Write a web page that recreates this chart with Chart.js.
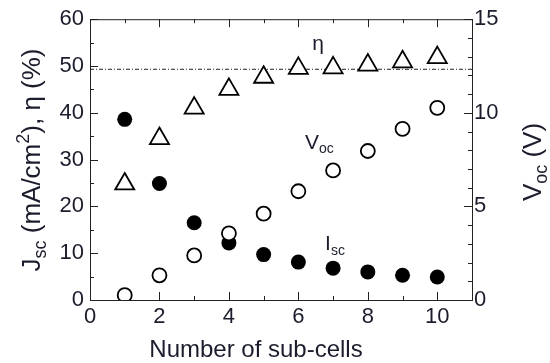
<!DOCTYPE html>
<html>
<head>
<meta charset="utf-8">
<script src="https://cdn.jsdelivr.net/npm/chart.js@4.4.0/dist/chart.umd.min.js"></script>
<style>
  html, body { margin: 0; padding: 0; background: #fff; }
  #wrap { width: 550px; height: 363px; }
</style>
</head>
<body>
<div id="wrap"><canvas id="c" width="550" height="363"></canvas></div>
<script>
  // data
  const subCells = [1, 2, 3, 4, 5, 6, 7, 8, 9, 10];
  const jsc = [38.6, 24.9, 16.5, 12.2, 9.7, 8.1, 6.8, 6.0, 5.3, 4.9];          // mA/cm2 (filled circles)
  const eta = [24.8, 34.5, 41.0, 45.0, 47.6, 49.5, 49.6, 50.2, 50.9, 51.8];    // % (triangles)
  const voc = [0.26, 1.32, 2.38, 3.56, 4.61, 5.81, 6.92, 7.96, 9.14, 10.26];   // V (open circles, right axis)
  const etaLimit = 49.3;   // dashed horizontal line
  const xTicks = [0, 2, 4, 6, 8, 10];
  const yTicks = [0, 10, 20, 30, 40, 50, 60];
  const y2Ticks = [0, 5, 10, 15];

  const INK = '#1b1d2c';
  const FONT = 'Liberation Sans, Arial, sans-serif';

  function pts(ys) { return subCells.map(function (x, i) { return { x: x, y: ys[i] }; }); }

  /* rich text: [text, 'n' | 'sub' | 'sup'] */
  function drawRich(ctx, segs, size, x, y, align) {
    const sm = Math.round(size * 0.68);
    let w = 0;
    segs.forEach(function (s) {
      ctx.font = (s[1] === 'n' ? size : sm) + 'px ' + FONT;
      w += ctx.measureText(s[0]).width;
    });
    let cx = align === 'center' ? x - w / 2 : x;
    segs.forEach(function (s) {
      const sz = s[1] === 'n' ? size : sm;
      ctx.font = sz + 'px ' + FONT;
      const dy = s[1] === 'sub' ? size * 0.22 : (s[1] === 'sup' ? -size * 0.42 : 0);
      ctx.fillText(s[0], cx, y + dy);
      cx += ctx.measureText(s[0]).width;
    });
  }

  /* frame, inward ticks, titles, labels */
  const decor = {
    id: 'decor',
    beforeDatasetsDraw(chart) {
      const ctx = chart.ctx, a = chart.chartArea;
      const sx = chart.scales.x, sy = chart.scales.y, sy2 = chart.scales.y2;
      ctx.save();
      ctx.strokeStyle = '#222';
      ctx.lineWidth = 1;
      ctx.strokeRect(a.left + 0.5, a.top + 0.5, a.right - a.left, a.bottom - a.top);
      ctx.beginPath();
      for (let v = 0; v <= 11; v++) {
        const px = Math.round(sx.getPixelForValue(v)) + 0.5;
        const len = v % 2 === 0 ? 8 : 4;
        ctx.moveTo(px, a.bottom); ctx.lineTo(px, a.bottom - len);
        ctx.moveTo(px, a.top); ctx.lineTo(px, a.top + len);
      }
      for (let v = 0; v <= 60; v += 5) {
        const py = Math.round(sy.getPixelForValue(v)) + 0.5;
        const len = v % 10 === 0 ? 8 : 4;
        ctx.moveTo(a.left, py); ctx.lineTo(a.left + len, py);
      }
      for (let v = 0; v <= 15; v++) {
        const py = Math.round(sy2.getPixelForValue(v)) + 0.5;
        const len = v % 5 === 0 ? 8 : 4;
        ctx.moveTo(a.right, py); ctx.lineTo(a.right - len, py);
      }
      ctx.stroke();
      ctx.restore();
    },
    afterDatasetsDraw(chart) {
      const ctx = chart.ctx;
      const sx = chart.scales.x, sy = chart.scales.y;
      ctx.save();
      ctx.fillStyle = INK;
      ctx.textBaseline = 'alphabetic';
      // axis titles
      drawRich(ctx, [['Number of sub-cells', 'n']], 24, 256, 357, 'center');
      ctx.save();
      ctx.translate(40, 160);
      ctx.rotate(-Math.PI / 2);
      drawRich(ctx, [['J', 'n'], ['sc', 'sub'], [' (mA/cm', 'n'], ['2', 'sup'], ['), \u03b7 (%)', 'n']], 26, 0, 0, 'center');
      ctx.restore();
      ctx.save();
      ctx.translate(541, 162);
      ctx.rotate(-Math.PI / 2);
      drawRich(ctx, [['V', 'n'], ['oc', 'sub'], [' (V)', 'n']], 26, 0, 0, 'center');
      ctx.restore();
      // series labels
      drawRich(ctx, [['\u03b7', 'n']], 21, sx.getPixelForValue(6.4), sy.getPixelForValue(53.5), 'left');
      drawRich(ctx, [['V', 'n'], ['oc', 'sub']], 21, sx.getPixelForValue(6.19), sy.getPixelForValue(32.3), 'left');
      drawRich(ctx, [['I', 'n'], ['sc', 'sub']], 21, sx.getPixelForValue(6.77), sy.getPixelForValue(10.6), 'left');
      ctx.restore();
    }
  };

  function fixTicks(list) {
    return function (scale) { scale.ticks = list.map(function (v) { return { value: v }; }); };
  }

  new Chart(document.getElementById('c'), {
    type: 'scatter',
    data: {
      datasets: [
        { label: 'Voc', data: pts(voc), yAxisID: 'y2', order: 1,
          pointStyle: 'circle', pointRadius: 7, borderWidth: 1.8, borderColor: '#000', backgroundColor: '#fff' },
        { label: 'Jsc', data: pts(jsc), yAxisID: 'y', order: 2,
          pointStyle: 'circle', pointRadius: 7.5, borderWidth: 0, borderColor: '#000', backgroundColor: '#000' },
        { label: 'eta', data: pts(eta), yAxisID: 'y', order: 3,
          pointStyle: 'triangle', pointRadius: 11, borderWidth: 1.8, borderColor: '#000', backgroundColor: '#fff' },
        { label: 'limit', data: [{ x: 0, y: etaLimit }, { x: 11, y: etaLimit }], yAxisID: 'y', order: 4,
          showLine: true, pointRadius: 0, borderWidth: 1, borderColor: '#222', borderDash: [4, 2, 1, 2] }
      ]
    },
    options: {
      responsive: false,
      animation: false,
      devicePixelRatio: 1,
      layout: { padding: { top: 16, left: 0, right: 0, bottom: 0 } },
      plugins: { legend: { display: false }, tooltip: { enabled: false } },
      scales: {
        x: {
          type: 'linear', position: 'bottom', min: 0, max: 11,
          grid: { display: false, drawTicks: false }, border: { display: false },
          afterBuildTicks: fixTicks(xTicks),
          afterFit: function (s) { s.height = 63; },
          ticks: { font: { family: FONT, size: 22 }, color: INK, padding: 4, maxRotation: 0 }
        },
        y: {
          type: 'linear', position: 'left', min: 0, max: 60,
          grid: { display: false, drawTicks: false }, border: { display: false },
          afterBuildTicks: fixTicks(yTicks),
          afterFit: function (s) { s.width = 90; },
          ticks: { font: { family: FONT, size: 22 }, color: INK, padding: 6 }
        },
        y2: {
          type: 'linear', position: 'right', min: 0, max: 15,
          grid: { display: false, drawTicks: false }, border: { display: false },
          afterBuildTicks: fixTicks(y2Ticks),
          afterFit: function (s) { s.width = 78; },
          ticks: { font: { family: FONT, size: 22 }, color: INK, padding: 2 }
        }
      }
    },
    plugins: [decor]
  });
</script>
</body>
</html>
